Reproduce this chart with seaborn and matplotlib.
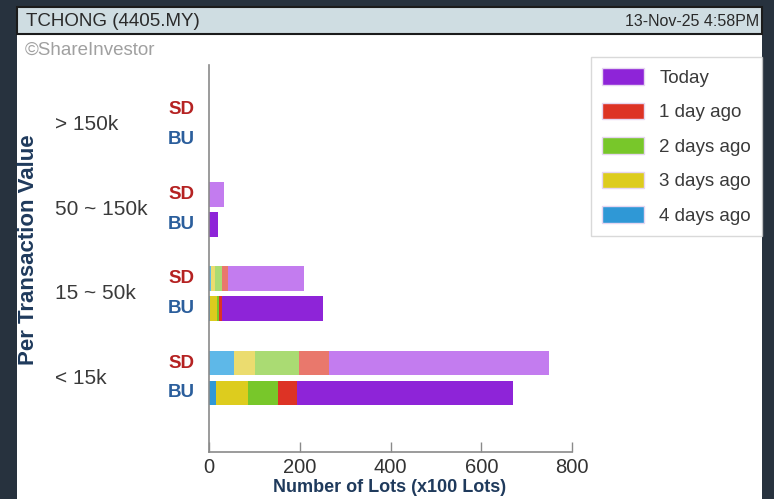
"""
TCHONG (4405.MY) - volume par tranche de valeur (SD / BU), barres empilées sur 5 jours.
"""
import numpy as np
import pandas as pd
import matplotlib
matplotlib.use("Agg")
import matplotlib.pyplot as plt
import matplotlib.transforms as mtransforms
from matplotlib.patches import Rectangle, Patch
import seaborn as sns

# --- données ---
ranges = ["> 150k", "50 ~ 150k", "15 ~ 50k", "< 15k"]
sides = ["SD", "BU"]
# ordre : (>150k SD, >150k BU, 50~150k SD, 50~150k BU, 15~50k SD, 15~50k BU, <15k SD, <15k BU)
days4 = [0, 0, 0, 0, 4, 3, 55, 16]
days3 = [0, 0, 0, 0, 10, 15, 47, 70]
days2 = [0, 0, 0, 0, 14, 3, 96, 65]
days1 = [0, 0, 0, 0, 14, 7, 66, 42]
today = [0, 0, 32, 20, 168, 224, 485, 476]
series_names = ["Today", "1 day ago", "2 days ago", "3 days ago", "4 days ago"]
x_ticks = [0, 200, 400, 600, 800]

# couleurs : SD plus clair, BU plus foncé
col_sd = {"Today": "#C37CEF", "1 day ago": "#E9786C", "2 days ago": "#AADB73",
          "3 days ago": "#EBDC6F", "4 days ago": "#5EB8E8"}
col_bu = {"Today": "#8E24D8", "1 day ago": "#DD3325", "2 days ago": "#78C72A",
          "3 days ago": "#DDCC1E", "4 days ago": "#2F98D6"}

df = pd.DataFrame({
    "range": np.repeat(ranges, 2),
    "side": sides * len(ranges),
    "4 days ago": days4, "3 days ago": days3, "2 days ago": days2,
    "1 day ago": days1, "Today": today,
})
# cumul de gauche (4 jours) à droite (aujourd'hui)
stack_order = ["4 days ago", "3 days ago", "2 days ago", "1 day ago", "Today"]
cum = df[stack_order].cumsum(axis=1)

sns.set_theme(style="white")
plt.rcParams["font.family"] = ["Liberation Sans", "DejaVu Sans"]

W, H = 774, 499
fig = plt.figure(figsize=(W / 100, H / 100), dpi=100, facecolor="#27323E")

def fx(px): return px / W
def fy(py): return 1 - py / H

# panneau blanc + barre de titre
fig.patches.append(Rectangle((fx(17), 0), fx(762) - fx(17), fy(7), transform=fig.transFigure,
                             facecolor="white", edgecolor="none", zorder=-5))
fig.patches.append(Rectangle((fx(17), fy(34)), fx(762) - fx(17), fy(7) - fy(34), transform=fig.transFigure,
                             facecolor="#CFDDE2", edgecolor="#1B1B1B", linewidth=1.5, zorder=-4))
fig.text(fx(26), fy(21), "TCHONG (4405.MY)", fontsize=13.5, color="#2A2A2A", va="center", ha="left")
fig.text(fx(759), fy(21), "13-Nov-25 4:58PM", fontsize=11.5, color="#2A2A2A", va="center", ha="right")
fig.text(fx(25), fy(50), "©ShareInvestor", fontsize=13.5, color="#A0A0A0", va="center", ha="left")

ax = fig.add_axes([fx(209), fy(452), fx(572) - fx(209), fy(65) - fy(452)])
ax.set_facecolor("white")

for name in reversed(stack_order):
    d = df[["range", "side"]].copy()
    d["val"] = cum[name]
    sns.barplot(data=d, y="range", x="val", hue="side", order=ranges, hue_order=sides,
                palette={"SD": col_sd[name], "BU": col_bu[name]}, orient="h",
                width=0.71, gap=0.17, dodge=True, errorbar=None, legend=False,
                linewidth=0, saturation=1, ax=ax)

ax.set_xlim(0, 800)
ax.set_ylim(3.877, -0.71)
ax.set_xticks(x_ticks)
ax.set_yticks([])
ax.set_xlabel("")
ax.set_ylabel("")
ax.tick_params(axis="x", direction="in", length=7, width=1, color="#8A8A8A",
               labelsize=14.5, labelcolor="#333333", pad=4, bottom=True)
for s in ["top", "right"]:
    ax.spines[s].set_visible(False)
for s in ["left", "bottom"]:
    ax.spines[s].set_color("#8A8A8A")
    ax.spines[s].set_linewidth(1.2)

# étiquettes des tranches et SD / BU
tr = mtransforms.blended_transform_factory(fig.transFigure, ax.transData)
for i, r in enumerate(ranges):
    ax.text(fx(55), i, r, transform=tr, fontsize=15, color="#3A3A3A", va="center", ha="left",
            clip_on=False)
    ax.text(fx(181), i - 0.1775, "SD", transform=tr, fontsize=13.5, fontweight="bold",
            color="#B52222", va="center", ha="center", clip_on=False)
    ax.text(fx(181), i + 0.1775, "BU", transform=tr, fontsize=13.5, fontweight="bold",
            color="#2B5E9C", va="center", ha="center", clip_on=False)

fig.text(fx(29), fy(250), "Per Transaction Value", rotation=90, fontsize=16, fontweight="bold",
         color="#1F3A5C", va="center", ha="center")
fig.text(fx(390), fy(488), "Number of Lots (x100 Lots)", fontsize=13, fontweight="bold",
         color="#1F3A5C", va="center", ha="center")

handles = [Patch(facecolor=col_bu[n], edgecolor="#E6D6F0", linewidth=1.0, label=n) for n in series_names]
leg = fig.legend(handles=handles, loc="upper left", bbox_to_anchor=(fx(591), fy(57)),
                 frameon=True, fancybox=False, fontsize=13.5, handlelength=2.24, handleheight=0.96,
                 labelspacing=0.85, handletextpad=0.8, borderpad=0.6, borderaxespad=0)
leg.get_frame().set_edgecolor("#D0D0D0")
leg.get_frame().set_linewidth(1)
for t in leg.get_texts():
    t.set_color("#3A3A3A")

plt.savefig("out.png", dpi=100, facecolor=fig.get_facecolor())
